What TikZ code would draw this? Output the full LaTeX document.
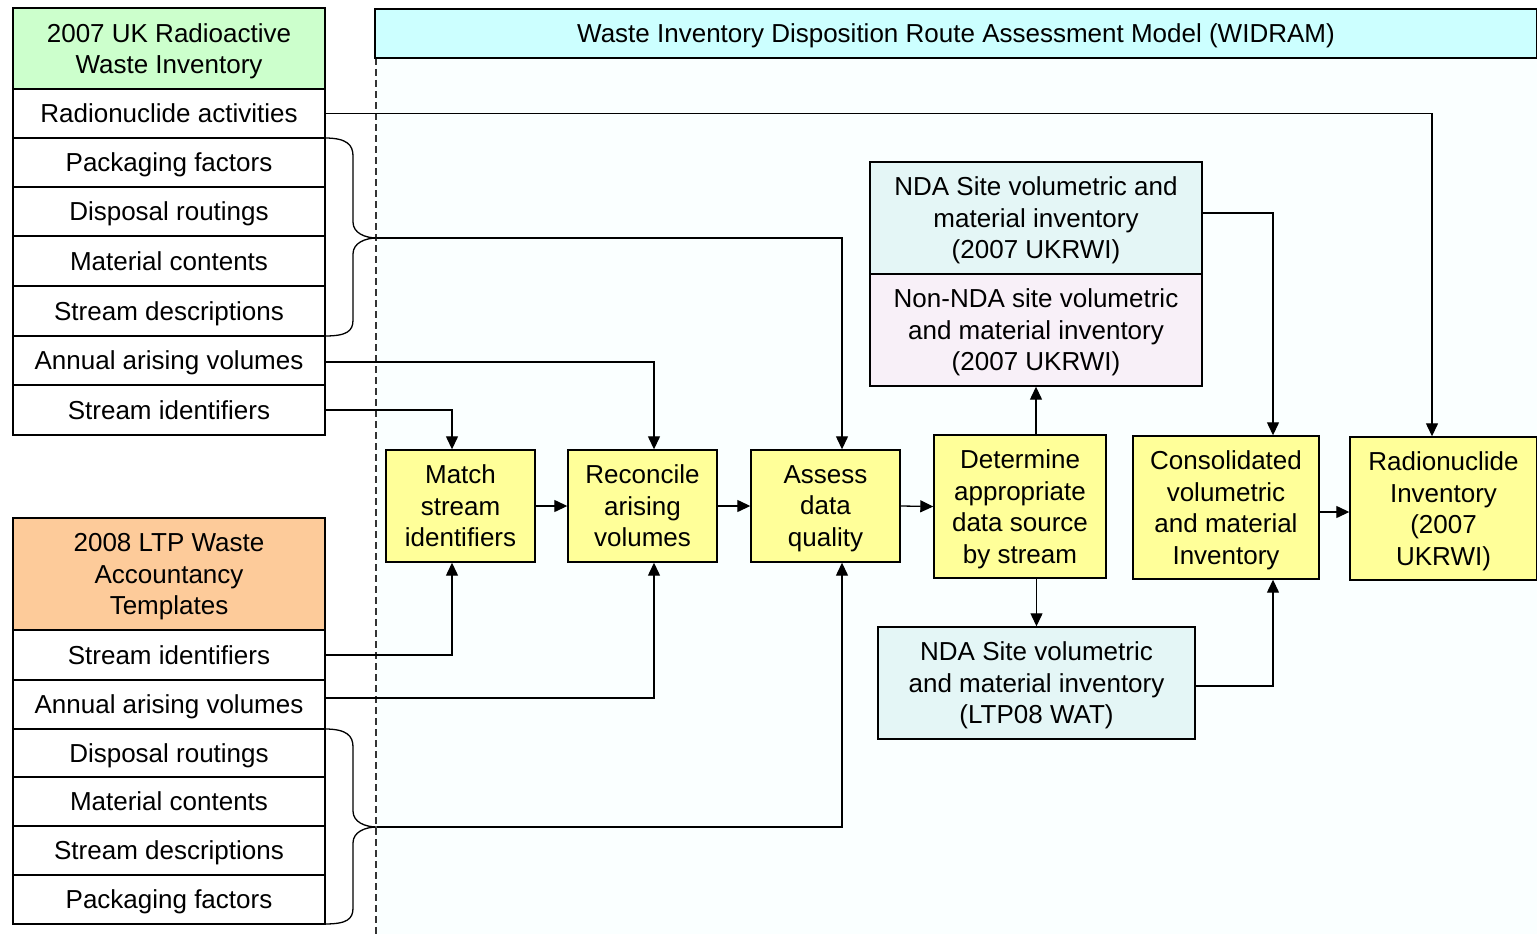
\documentclass[tikz,border=0pt]{standalone}
\usepackage{fontspec}
\setmainfont{Liberation Sans}
\usetikzlibrary{arrows.meta}
\definecolor{gbox}{HTML}{CCFFCC}
\definecolor{obox}{HTML}{FDCB9A}
\definecolor{ybox}{HTML}{FFFF99}
\definecolor{tbox}{HTML}{CCFFFF}
\definecolor{ndabox}{HTML}{E4F6F6}
\definecolor{nonbox}{HTML}{F8F0F8}
\definecolor{areabg}{HTML}{FAFFFF}
\newcommand\myfs{\fontsize{26}{31.5}\selectfont}
\tikzset{
  box/.style={draw, line width=1.4pt, inner sep=0pt, align=center, font=\myfs, text depth=0pt},
  listbox/.style={box, fill=white, minimum width=312pt, minimum height=49pt},
  proc/.style={box, fill=ybox},
  conn/.style={line width=1.3pt},
  arr/.style={conn, -{Triangle[length=13pt,width=12pt]}},
  divider/.style={line width=1.6pt, draw=black!80, dash pattern=on 7pt off 4pt}
}
\begin{document}
\begin{tikzpicture}[x=1pt,y=-1pt]
\useasboundingbox (0,0) rectangle (1537,934);
% WIDRAM area
\fill[areabg] (376,58) rectangle (1537,934);
\draw[divider] (376,58) -- (376,934);
\draw[divider] (376,58) -- (1537,58);
\node[box, fill=tbox, minimum width=1162pt, minimum height=49pt] (title) at (956,33.5)
  {Waste Inventory Disposition Route Assessment Model (WIDRAM)};

% 2007 UKRWI column
\node[box, fill=gbox, minimum width=312pt, minimum height=81pt] (g07) at (169,48.5)
  {2007 UK Radioactive\\Waste Inventory};
\node[listbox] (r1) at (169,113.5) {Radionuclide activities};
\node[listbox] (r2) at (169,162.5) {Packaging factors};
\node[listbox] (r3) at (169,211.5) {Disposal routings};
\node[listbox, minimum height=50pt] (r4) at (169,261) {Material contents};
\node[listbox, minimum height=50pt] (r5) at (169,311) {Stream descriptions};
\node[listbox] (r6) at (169,360.5) {Annual arising volumes};
\node[listbox, minimum height=50pt] (r7) at (169,410) {Stream identifiers};

% 2008 LTP column
\node[box, fill=obox, minimum width=312pt, minimum height=112pt] (o08) at (169,574)
  {2008 LTP Waste\\Accountancy\\Templates};
\node[listbox, minimum height=50pt] (l1) at (169,655) {Stream identifiers};
\node[listbox] (l2) at (169,704.5) {Annual arising volumes};
\node[listbox, minimum height=48pt] (l3) at (169,753) {Disposal routings};
\node[listbox] (l4) at (169,801.5) {Material contents};
\node[listbox] (l5) at (169,850.5) {Stream descriptions};
\node[listbox] (l6) at (169,899.5) {Packaging factors};

% process boxes
\node[proc, minimum width=149pt, minimum height=112pt] (match) at (460.5,506) {Match\\stream\\identifiers};
\node[proc, minimum width=149pt, minimum height=112pt] (recon) at (642.5,506) {Reconcile\\arising\\volumes};
\node[proc, minimum width=149pt, minimum height=112pt] (assess) at (825.5,506) {Assess\\data\\quality};
\node[proc, minimum width=172pt, minimum height=143pt] (determ) at (1020,506.5) {Determine\\appropriate\\data source\\by stream};
\node[proc, minimum width=186pt, minimum height=143pt] (consol) at (1226,507.5) {Consolidated\\volumetric\\and material\\Inventory};
\node[proc, minimum width=187pt, minimum height=143pt] (radinv) at (1443.5,508.5) {Radionuclide\\Inventory\\(2007\\UKRWI)};

% inventories
\node[box, fill=ndabox, minimum width=332pt, minimum height=112pt] (nda1) at (1036,218)
  {NDA Site volumetric and\\material inventory\\(2007 UKRWI)};
\node[box, fill=nonbox, minimum width=332pt, minimum height=112pt] (nonnda) at (1036,330)
  {Non-NDA site volumetric\\and material inventory\\(2007 UKRWI)};
\node[box, fill=ndabox, minimum width=317pt, minimum height=112pt] (nda2) at (1036.5,683)
  {NDA Site volumetric\\and material inventory\\(LTP08 WAT)};

% braces
\coordinate (tip1) at (377,238);
\coordinate (tip2) at (377,827);
\draw[conn] (325,138) .. controls (347,138) and (353,145) .. (353,156) -- (353,222)
  .. controls (353,233) and (365,238) .. (tip1)
  .. controls (365,238) and (353,243) .. (353,254) -- (353,320)
  .. controls (353,331) and (347,336) .. (325,336);
\draw[conn] (325,729) .. controls (347,729) and (353,736) .. (353,747) -- (353,811)
  .. controls (353,822) and (365,827) .. (tip2)
  .. controls (365,827) and (353,832) .. (353,843) -- (353,908)
  .. controls (353,919) and (347,924) .. (325,924);

% connectors
\draw[arr] (r1.east) -| ([xshift=-11.5pt]radinv.north);
\draw[arr] (tip1) -| ([xshift=16.5pt]assess.north);
\draw[arr] ([yshift=-1.5pt]r6.east) -| ([xshift=11.5pt]recon.north);
\draw[arr] (r7.east) -| ([xshift=-8.5pt]match.north);
\draw[arr] (l1.east) -| ([xshift=-8.5pt]match.south);
\draw[arr] ([yshift=6.5pt]l2.east) -| ([xshift=11.5pt]recon.south);
\draw[arr] (tip2) -| ([xshift=16.5pt]assess.south);
\draw[arr] (match.east) -- (recon.west);
\draw[arr] (recon.east) -- (assess.west);
\draw[arr] (assess.east) -- (determ.west);
\draw[arr] (nonnda.south |- determ.north) -- (nonnda.south);
\draw[arr] (nda2.north |- determ.south) -- (nda2.north);
\draw[arr] ([yshift=5pt]nda1.east) -| ([xshift=47pt]consol.north);
\draw[arr] ([yshift=-3pt]nda2.east) -| ([xshift=47pt]consol.south);
\draw[arr] ([yshift=-4.5pt]consol.east) -- ([yshift=-4.5pt]consol.east -| radinv.west);
\end{tikzpicture}
\end{document}
